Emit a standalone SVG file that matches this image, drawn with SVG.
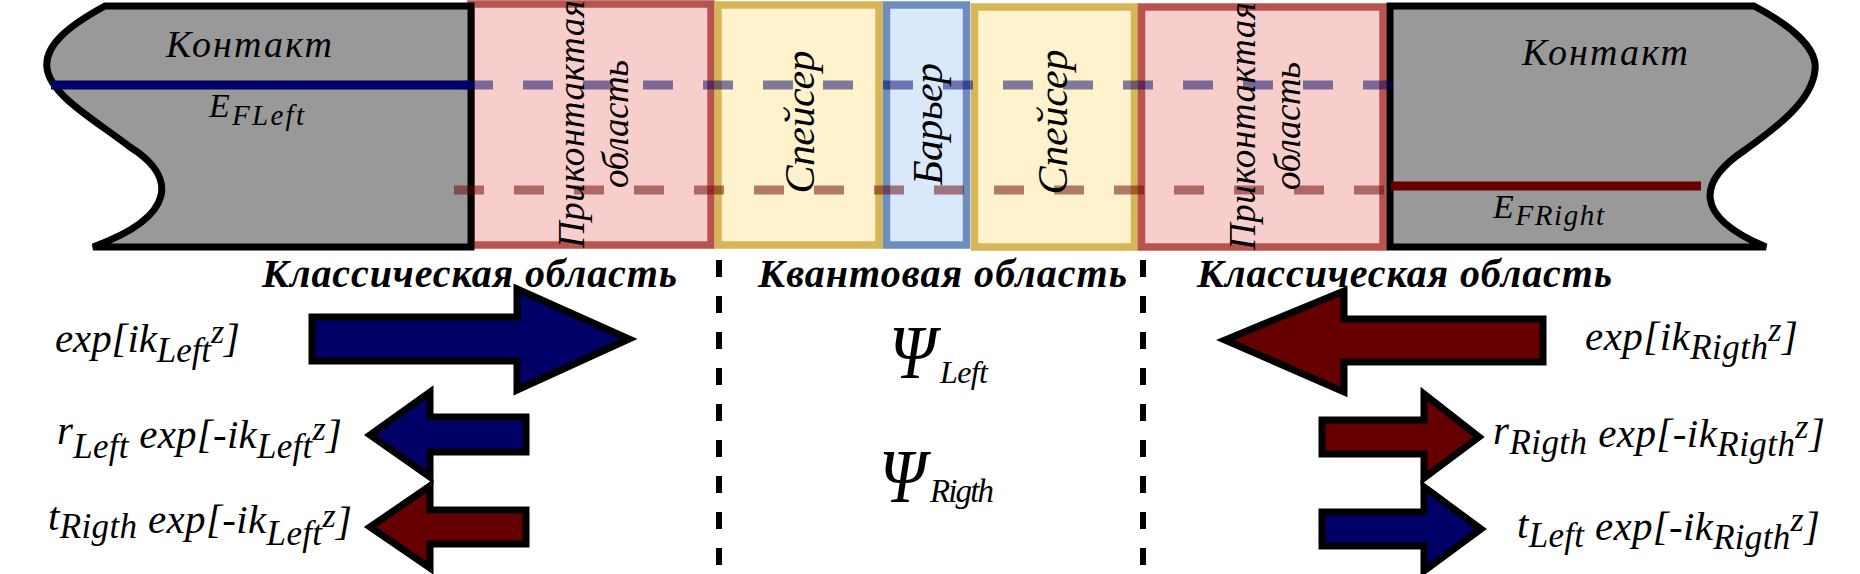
<svg xmlns="http://www.w3.org/2000/svg" width="1860" height="574" viewBox="0 0 1860 574">
<style>
.contact{fill:#999999;stroke:#000;stroke-width:7;stroke-linejoin:miter}
.pink{fill:#f8cecc;stroke:#b85450;stroke-width:7.5}
.yel{fill:#fff2cc;stroke:#d6b656;stroke-width:7.5}
.blu{fill:#dae8fc;stroke:#6c8ebf;stroke-width:7.5}
.arr{stroke:#000;stroke-width:7;stroke-linejoin:miter}
.navy{fill:#000066}
.maroon{fill:#660000}
.vdash{stroke:#000;stroke-width:6;stroke-dasharray:17 19;fill:none}
</style>
<rect width="1860" height="574" fill="#fff"/>

<g id="connectors">
<line class="vdash" x1="719" y1="260" x2="719" y2="574"/>
<line class="vdash" x1="1143" y1="260" x2="1143" y2="574"/>
</g>

<g id="contact-region-left"><rect class="pink" x="471" y="4" width="240" height="241"/></g>
<g id="spacer-left"><rect class="yel" x="718" y="5" width="161" height="240"/></g>
<g id="barrier"><rect class="blu" x="886.5" y="5" width="80" height="240"/></g>
<g id="spacer-right"><rect class="yel" x="974.5" y="7" width="160" height="240"/></g>
<g id="contact-region-right"><rect class="pink" x="1141.5" y="7" width="241.5" height="240"/></g>

<g id="contact-left">
<path class="contact" d="M471,6 L105,6 C70,25 44,45 47,68 C50,95 95,120 130,147 C175,175 180,215 93,247 L471,247 Z"/>
</g>
<g id="contact-right">
<path class="contact" d="M1390,6 L1754,6 C1790,25 1818,48 1815,70 C1812,100 1780,125 1745,150 C1700,180 1690,215 1766,247 L1390,247 Z"/>
</g>

<g id="fermi-levels">
<line x1="463" y1="85" x2="1394" y2="85" stroke="#000066" stroke-opacity="0.5" stroke-width="9" stroke-dasharray="30 30"/>
<line x1="454" y1="190" x2="1384" y2="190" stroke="#660000" stroke-opacity="0.5" stroke-width="9" stroke-dasharray="30 30"/>
<line x1="51" y1="85" x2="472" y2="85" stroke="#000066" stroke-width="9"/>
<line x1="1391" y1="186" x2="1701" y2="186" stroke="#660000" stroke-width="9"/>
</g>

<g font-family="'Liberation Serif', 'Times New Roman', serif" font-style="italic" fill="#000">
<g id="top-labels">
<text x="166" y="57" font-size="38" textLength="166">Контакт</text>
<text x="1522" y="65" font-size="38" textLength="166">Контакт</text>
<text x="209" y="117" font-size="34" textLength="95">E<tspan font-size="29" dy="8">FLeft</tspan></text>
<text x="1493" y="218" font-size="34" textLength="111">E<tspan font-size="29" dy="7">FRight</tspan></text>
<text font-size="37" text-anchor="middle" transform="translate(584,124) rotate(-90)" textLength="248">Приконтактая</text>
<text font-size="37" text-anchor="middle" transform="translate(628,124) rotate(-90)" textLength="128">область</text>
<text font-size="37" text-anchor="middle" transform="translate(1255,126) rotate(-90)" textLength="248">Приконтактая</text>
<text font-size="37" text-anchor="middle" transform="translate(1300,126) rotate(-90)" textLength="128">область</text>
<text font-size="42" text-anchor="middle" transform="translate(814,122) rotate(-90)" textLength="143">Спейсер</text>
<text font-size="42" text-anchor="middle" transform="translate(942,124) rotate(-90)" textLength="122">Барьер</text>
<text font-size="42" text-anchor="middle" transform="translate(1067,122) rotate(-90)" textLength="145">Спейсер</text>
</g>

<g id="region-labels" font-weight="bold" font-size="40">
<text x="262" y="287" textLength="415">Классическая область</text>
<text x="758" y="287" textLength="369">Квантовая область</text>
<text x="1197" y="287" textLength="415">Классическая область</text>
</g>
</g>

<g id="arrows">
<path class="arr navy" d="M312,317 H517 V289 L629,339 L517,390 V361 H312 Z"/>
<path class="arr navy" d="M526,417 H430 V392 L370,435 L430,477 V452 H526 Z"/>
<path class="arr maroon" d="M526,510 H430 V486 L370,527 L430,568 V544 H526 Z"/>
<path class="arr maroon" d="M1543,319 H1344 V291 L1225,340 L1344,392 V362 H1543 Z"/>
<path class="arr maroon" d="M1322,420 H1424 V394 L1479,437 L1424,478 V454 H1322 Z"/>
<path class="arr navy" d="M1322,512 H1424 V487 L1481,529 L1424,571 V546 H1322 Z"/>
</g>

<g font-family="'Liberation Serif', 'Times New Roman', serif" font-style="italic" fill="#000">
<g id="waves-left">
<text x="55" y="352" font-size="41" textLength="185">exp[ik<tspan font-size="35" dy="10">Left</tspan><tspan font-size="34" dy="-19">z</tspan><tspan dy="9">]</tspan></text>
<text x="57" y="444" font-size="41" textLength="285">r<tspan font-size="35" dy="14">Left</tspan><tspan dy="-10"> exp[-ik</tspan><tspan font-size="35" dy="10">Left</tspan><tspan font-size="34" dy="-18">z</tspan><tspan dy="8">]</tspan></text>
<text x="48" y="530" font-size="41" textLength="304">t<tspan font-size="35" dy="8">Rigth</tspan><tspan dy="-5"> exp[-ik</tspan><tspan font-size="35" dy="12">Left</tspan><tspan font-size="34" dy="-18">z</tspan><tspan dy="8">]</tspan></text>
</g>

<g id="waves-right">
<text x="1585" y="350" font-size="41" textLength="213">exp[ik<tspan font-size="35" dy="9">Rigth</tspan><tspan font-size="34" dy="-18">z</tspan><tspan dy="9">]</tspan></text>
<text x="1493" y="444" font-size="41" textLength="332">r<tspan font-size="35" dy="10">Rigth</tspan><tspan dy="-7"> exp[-ik</tspan><tspan font-size="35" dy="9">Rigth</tspan><tspan font-size="34" dy="-18">z</tspan><tspan dy="9">]</tspan></text>
<text x="1517" y="538" font-size="41" textLength="303">t<tspan font-size="35" dy="9">Left</tspan><tspan dy="-7"> exp[-ik</tspan><tspan font-size="35" dy="9">Rigth</tspan><tspan font-size="34" dy="-18">z</tspan><tspan dy="9">]</tspan></text>
</g>

<g id="psi-left">
<text x="889" y="378" font-size="76" textLength="47" lengthAdjust="spacingAndGlyphs">Ψ</text>
<text x="940" y="383" font-size="32" textLength="48">Left</text>
</g>
<g id="psi-right">
<text x="879" y="502" font-size="76" textLength="47" lengthAdjust="spacingAndGlyphs">Ψ</text>
<text x="930" y="502" font-size="33" textLength="64">Rigth</text>
</g>
</g>
</svg>
